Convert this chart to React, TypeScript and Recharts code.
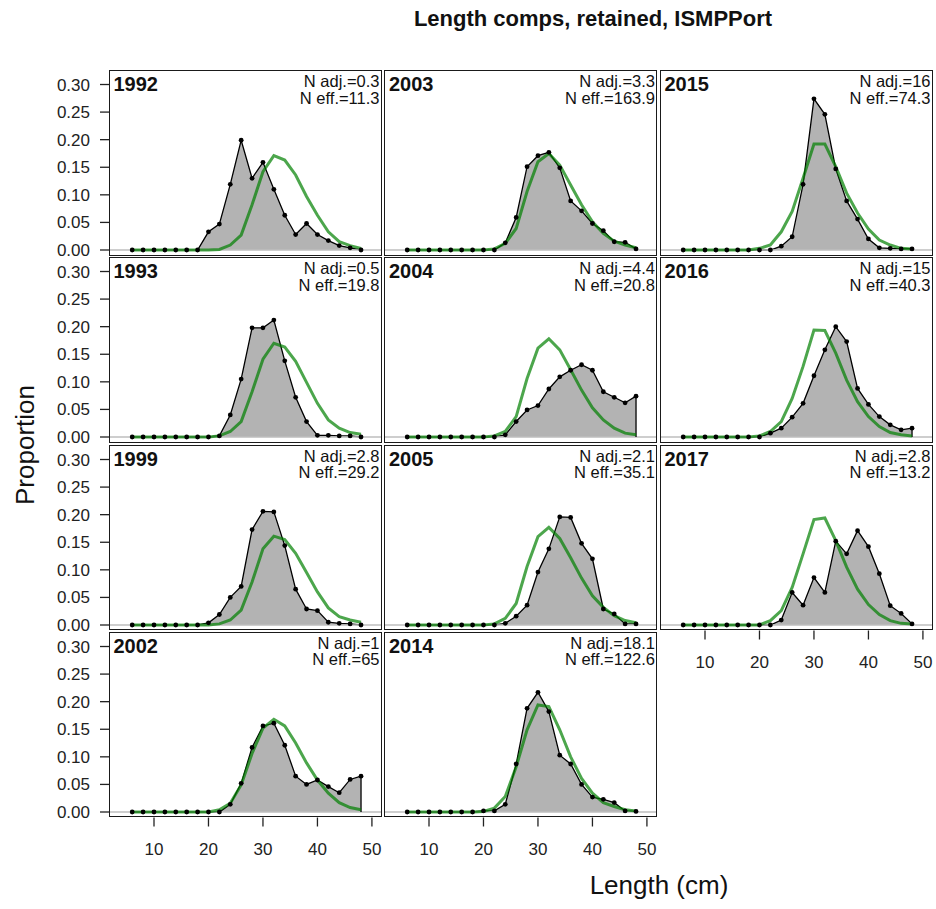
import React from 'react';
import {
  ComposedChart,
  Area,
  Line,
  XAxis,
  YAxis,
  ReferenceLine,
} from 'recharts';

// length bins (cm)
const bins = [6, 8, 10, 12, 14, 16, 18, 20, 22, 24, 26, 28, 30, 32, 34, 36, 38, 40, 42, 44, 46, 48];

// observed / expected proportions by year
const obs1992 = [0, 0, 0, 0, 0, 0, 0, 0.033, 0.047, 0.119, 0.199, 0.13, 0.159, 0.11, 0.063, 0.028, 0.048, 0.028, 0.017, 0.008, 0.004, 0];
const exp1992 = [0, 0, 0, 0, 0, 0, 0, 0, 0.001, 0.009, 0.027, 0.082, 0.142, 0.171, 0.163, 0.136, 0.097, 0.063, 0.033, 0.015, 0.008, 0.003];
const obs1993 = [0, 0, 0, 0, 0, 0, 0, 0, 0.002, 0.04, 0.105, 0.198, 0.198, 0.212, 0.138, 0.072, 0.028, 0.003, 0.003, 0.002, 0.002, 0];
const exp1993 = [0, 0, 0, 0, 0, 0, 0, 0, 0.002, 0.01, 0.028, 0.082, 0.141, 0.17, 0.163, 0.137, 0.099, 0.061, 0.031, 0.016, 0.008, 0.005];
const obs1999 = [0, 0, 0, 0, 0, 0, 0, 0.004, 0.019, 0.05, 0.07, 0.173, 0.206, 0.205, 0.144, 0.065, 0.029, 0.026, 0.005, 0.003, 0.002, 0];
const exp1999 = [0, 0, 0, 0, 0, 0, 0, 0, 0.002, 0.009, 0.027, 0.078, 0.138, 0.161, 0.155, 0.13, 0.095, 0.06, 0.031, 0.015, 0.009, 0.005];
const obs2002 = [0, 0, 0, 0, 0, 0, 0, 0, 0, 0.014, 0.052, 0.117, 0.156, 0.161, 0.121, 0.065, 0.05, 0.058, 0.046, 0.035, 0.059, 0.065];
const exp2002 = [0, 0, 0, 0, 0, 0, 0, 0, 0.004, 0.016, 0.049, 0.106, 0.152, 0.168, 0.156, 0.125, 0.089, 0.058, 0.034, 0.017, 0.008, 0.004];
const obs2003 = [0, 0, 0, 0, 0, 0, 0, 0, 0, 0.013, 0.059, 0.151, 0.171, 0.177, 0.149, 0.089, 0.071, 0.048, 0.035, 0.015, 0.014, 0.002];
const exp2003 = [0, 0, 0, 0, 0, 0, 0, 0, 0.002, 0.012, 0.039, 0.106, 0.16, 0.175, 0.154, 0.118, 0.082, 0.051, 0.03, 0.016, 0.009, 0.004];
const obs2004 = [0, 0, 0, 0, 0, 0, 0, 0, 0, 0.004, 0.028, 0.049, 0.057, 0.087, 0.109, 0.121, 0.131, 0.121, 0.082, 0.072, 0.062, 0.074];
const exp2004 = [0, 0, 0, 0, 0, 0, 0, 0, 0.002, 0.01, 0.037, 0.106, 0.161, 0.178, 0.158, 0.122, 0.085, 0.053, 0.031, 0.016, 0.007, 0.004];
const obs2005 = [0, 0, 0, 0, 0, 0, 0, 0, 0, 0.003, 0.016, 0.036, 0.096, 0.138, 0.196, 0.195, 0.148, 0.12, 0.029, 0.02, 0.002, 0.002];
const exp2005 = [0, 0, 0, 0, 0, 0, 0, 0, 0.002, 0.012, 0.039, 0.106, 0.16, 0.177, 0.157, 0.122, 0.085, 0.053, 0.032, 0.017, 0.008, 0.004];
const obs2014 = [0, 0, 0, 0, 0, 0, 0, 0.002, 0.002, 0.014, 0.087, 0.188, 0.217, 0.182, 0.103, 0.087, 0.05, 0.027, 0.023, 0.017, 0.002, 0.001];
const exp2014 = [0, 0, 0, 0, 0, 0, 0, 0.001, 0.007, 0.028, 0.082, 0.149, 0.194, 0.191, 0.149, 0.1, 0.061, 0.034, 0.017, 0.01, 0.004, 0.002];
const obs2015 = [0, 0, 0, 0, 0, 0, 0, 0, 0, 0.007, 0.024, 0.119, 0.274, 0.246, 0.147, 0.089, 0.056, 0.02, 0.004, 0.003, 0.002, 0.002];
const exp2015 = [0, 0, 0, 0, 0, 0, 0, 0.003, 0.009, 0.033, 0.07, 0.13, 0.192, 0.192, 0.151, 0.103, 0.067, 0.038, 0.018, 0.009, 0.003, 0.002];
const obs2016 = [0, 0, 0, 0, 0, 0, 0, 0, 0.007, 0.016, 0.036, 0.061, 0.111, 0.158, 0.2, 0.173, 0.088, 0.059, 0.037, 0.022, 0.013, 0.016];
const exp2016 = [0, 0, 0, 0, 0, 0, 0, 0.002, 0.01, 0.028, 0.07, 0.128, 0.194, 0.193, 0.152, 0.103, 0.064, 0.037, 0.019, 0.008, 0.004, 0.002];
const obs2017 = [0, 0, 0, 0, 0, 0, 0, 0, 0, 0.009, 0.059, 0.036, 0.086, 0.059, 0.152, 0.129, 0.171, 0.142, 0.093, 0.035, 0.021, 0.002];
const exp2017 = [0, 0, 0, 0, 0, 0, 0, 0, 0.008, 0.026, 0.068, 0.129, 0.191, 0.194, 0.153, 0.105, 0.065, 0.037, 0.019, 0.008, 0.003, 0.002];

const years = ['1992', '1993', '1999', '2002', '2003', '2004', '2005', '2014', '2015', '2016', '2017'];
const nAdj = ['0.3', '0.5', '2.8', '1', '3.3', '4.4', '2.1', '18.1', '16', '15', '2.8'];
const nEff = ['11.3', '19.8', '29.2', '65', '163.9', '20.8', '35.1', '122.6', '74.3', '40.3', '13.2'];
const observed = [obs1992, obs1993, obs1999, obs2002, obs2003, obs2004, obs2005, obs2014, obs2015, obs2016, obs2017];
const expected = [exp1992, exp1993, exp1999, exp2002, exp2003, exp2004, exp2005, exp2014, exp2015, exp2016, exp2017];

const xTicks = [10, 20, 30, 40, 50];
const yTicks = [0, 0.05, 0.1, 0.15, 0.2, 0.25, 0.3];

// page layout in window px (container is position: fixed at 0,0)
const COL_X = [108.5, 384, 659.5];
const ROW_Y = [70, 257.3, 444.6, 631.9];
const PW = 273;
const PH = 185.5;
const X_DOMAIN = [1.74, 51.85];
const Y_DOMAIN = [-0.00997, 0.3263];
const FONT = '"Liberation Sans", Arial, Helvetica, sans-serif';

function Panel({ idx }: { idx: number }) {
  const col = Math.floor(idx / 4);
  const row = idx % 4;
  const showY = col === 0;
  const showX = row === 3 || idx === years.length - 1;
  const yw = showY ? 100 : 0;
  const xh = showX ? 50 : 0;
  // room under the plot so the 0.00 label is not clipped
  const padB = !showX && showY ? 12 : 0;
  const left = COL_X[col];
  const top = ROW_Y[row];
  const data = bins.map((b, i) => ({ len: b, obs: observed[idx][i], exp: expected[idx][i] }));
  const lastBin = bins[bins.length - 1];
  const lastObs = observed[idx][bins.length - 1];

  return (
    <>
      <div style={{ position: 'absolute', left: left - yw, top: top }}>
        <ComposedChart
          width={PW + yw}
          height={PH + xh + padB}
          data={data}
          margin={{ top: 0, right: 0, bottom: padB, left: 0 }}
        >
          <XAxis
            type="number"
            dataKey="len"
            domain={X_DOMAIN}
            ticks={xTicks}
            interval={0}
            allowDataOverflow
            hide={!showX}
            height={xh}
            axisLine={false}
            tickSize={9}
            tickMargin={16}
            tickLine={{ stroke: '#222', strokeWidth: 1.3 }}
            tick={{ fontSize: 17, fill: '#222' }}
          />
          <YAxis
            type="number"
            domain={Y_DOMAIN}
            ticks={yTicks}
            interval={0}
            allowDataOverflow
            hide={!showY}
            width={yw}
            axisLine={false}
            tickSize={9}
            tickMargin={10}
            tickLine={{ stroke: '#222', strokeWidth: 1.3 }}
            tick={{ fontSize: 17, fill: '#222' }}
            tickFormatter={(v: number) => v.toFixed(2)}
          />
          <ReferenceLine y={0} stroke="#bebebe" strokeWidth={1.5} />
          <Area
            dataKey="obs"
            type="linear"
            baseValue={0}
            fill="#b3b3b3"
            fillOpacity={1}
            stroke="#000"
            strokeWidth={1.3}
            dot={{ r: 2.4, fill: '#000', stroke: '#000', strokeWidth: 0 }}
            isAnimationActive={false}
          />
          <ReferenceLine
            segment={[{ x: lastBin, y: 0 }, { x: lastBin, y: lastObs }]}
            stroke="#000"
            strokeWidth={1.3}
          />
          <Line
            dataKey="exp"
            type="linear"
            stroke="rgb(0,128,0)"
            strokeOpacity={0.7}
            strokeWidth={3}
            dot={false}
            isAnimationActive={false}
          />
        </ComposedChart>
      </div>
      <div
        style={{
          position: 'absolute',
          left: left,
          top: top,
          width: PW,
          height: PH,
          border: '1.5px solid #1a1a1a',
          boxSizing: 'border-box',
          pointerEvents: 'none',
        }}
      />
      <div
        style={{
          position: 'absolute',
          left: left + 5,
          top: top + 4,
          fontSize: 20,
          fontWeight: 'bold',
          lineHeight: '20px',
          color: '#111',
        }}
      >
        {years[idx]}
      </div>
      <div
        style={{
          position: 'absolute',
          left: left,
          width: PW - 2,
          top: top + 3,
          fontSize: 16.5,
          lineHeight: '16.6px',
          textAlign: 'right',
          color: '#111',
        }}
      >
        <div>N adj.={nAdj[idx]}</div>
        <div>N eff.={nEff[idx]}</div>
      </div>
    </>
  );
}

export default function App() {
  return (
    <div
      style={{
        position: 'fixed',
        left: 0,
        top: 0,
        width: 936,
        height: 909,
        overflow: 'hidden',
        fontFamily: FONT,
        background: '#fff',
      }}
    >
      <div
        style={{
          position: 'absolute',
          left: 593 - 300,
          width: 600,
          top: 6,
          textAlign: 'center',
          fontSize: 22,
          fontWeight: 'bold',
          lineHeight: '25px',
          color: '#111',
        }}
      >
        Length comps, retained, ISMPPort
      </div>
      {years.map((y, i) => (
        <Panel key={y} idx={i} />
      ))}
      <div
        style={{
          position: 'absolute',
          left: 659 - 150,
          width: 300,
          top: 870,
          textAlign: 'center',
          fontSize: 26,
          lineHeight: '30px',
          color: '#111',
        }}
      >
        Length (cm)
      </div>
      <div
        style={{
          position: 'absolute',
          left: 25 - 100,
          width: 200,
          top: 445 - 15,
          textAlign: 'center',
          fontSize: 26,
          lineHeight: '30px',
          color: '#111',
          transform: 'rotate(-90deg)',
        }}
      >
        Proportion
      </div>
    </div>
  );
}
